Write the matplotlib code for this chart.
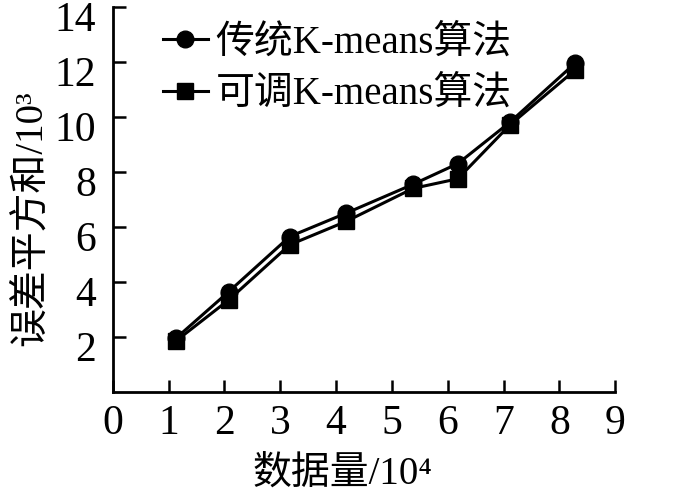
import matplotlib
matplotlib.use("Agg")
import matplotlib.pyplot as plt
import matplotlib.transforms as mtransforms

plt.rcParams['font.family'] = ['Liberation Serif', 'Noto Sans CJK SC', 'DejaVu Serif']

# data
x_data = [1.13, 2.08, 3.17, 4.18, 5.38, 6.18, 7.11, 8.28]
sse_kmeans = [1.95, 3.65, 5.65, 6.5, 7.55, 8.3, 9.8, 11.95]
sse_adjust = [1.85, 3.35, 5.35, 6.2, 7.4, 7.75, 9.7, 11.7]
labels = ["传统K-means算法", "可调K-means算法"]
x_ticks = list(range(0, 10))
y_ticks = list(range(2, 15, 2))

fig = plt.figure(figsize=(7, 4.99), dpi=100)
ax = fig.add_axes([0.161, 0.2144, 0.718, 0.772])

ax.plot(x_data, sse_kmeans, color='black', lw=2.2, marker='o', ms=12, label=labels[0])
ax.plot(x_data, sse_adjust, color='black', lw=2.2, marker='s', ms=11, label=labels[1])

ax.set_xlim(0, 9)
ax.set_ylim(0, 14)
ax.set_xticks(x_ticks)
ax.set_yticks(y_ticks)
ax.tick_params(direction='in', length=9, width=1.8, labelsize=30, pad=9)
ax.tick_params(axis='y', pad=12)
ax.spines['top'].set_visible(False)
ax.spines['right'].set_visible(False)
for s in ['left', 'bottom']:
    ax.spines[s].set_linewidth(2)

# y tick labels sit a little below their ticks in the original
shift = mtransforms.ScaledTranslation(0, -0.09, fig.dpi_scale_trans)
for lab in ax.get_yticklabels():
    lab.set_transform(lab.get_transform() + shift)

ax.set_xlabel('数据量/10⁴', fontsize=28)
ax.set_ylabel('误差平方和/10³', fontsize=28)
ax.xaxis.set_label_coords(0.458, -0.168)
ax.yaxis.set_label_coords(-0.125, 0.452)

ax.legend(loc='upper left', bbox_to_anchor=(0.05, 1.02), frameon=False, fontsize=28,
          handlelength=1.15, handletextpad=0.2, labelspacing=0.38, borderpad=0.15)

fig.savefig("out.png", dpi=100)
